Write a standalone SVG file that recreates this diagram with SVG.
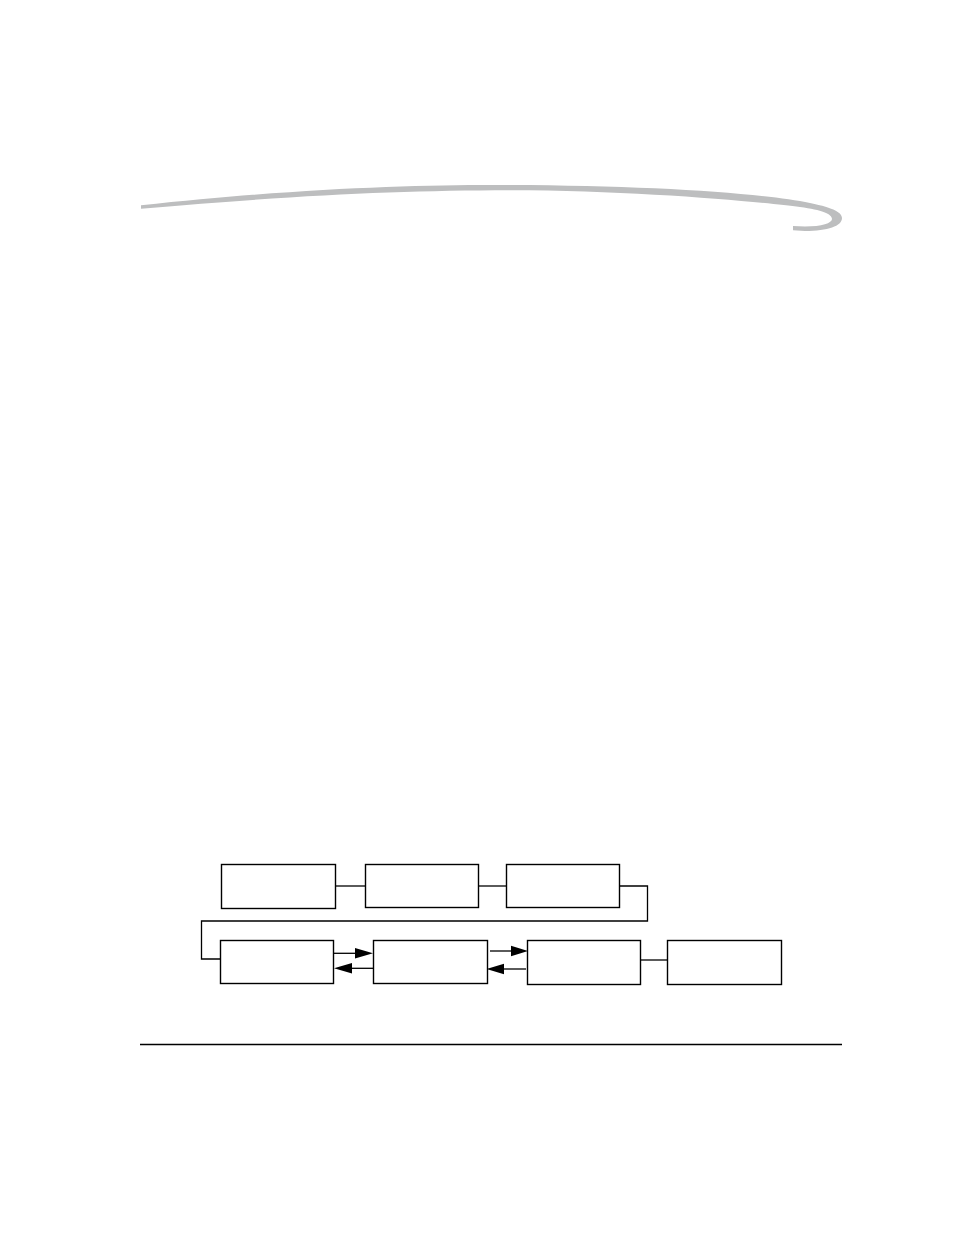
<svg xmlns="http://www.w3.org/2000/svg" width="954" height="1235" viewBox="0 0 954 1235">
<style>
.box{fill:#fff;stroke:#000;stroke-width:1.4}
.ln{fill:none;stroke:#000;stroke-width:1.3}
.ah{fill:#000;stroke:none}
</style>
<rect width="954" height="1235" fill="#fff"/>
<path id="swoosh" fill="#bdbebf" d="M141,205.3 C300,188 420,184.5 510,185 C650,185.5 760,193 810,203 C835,208 842,213 842,218 C842,226 828,231 805,231 L793,230.2 L793,226 L805,226.5 C822,226.5 832,223 832,219 C832,214 822,210 800,207 C760,202 640,190.5 510,190.3 C400,190.5 300,195 141,208.7 Z"/>
<g id="connectors">
<line class="ln" x1="335" y1="886" x2="365" y2="886"/>
<line class="ln" x1="478" y1="886" x2="506" y2="886"/>
<polyline class="ln" points="619,886 647.5,886 647.5,921 201.5,921 201.5,959 221,959"/>
<line class="ln" x1="333" y1="953.3" x2="356" y2="953.3"/>
<polygon class="ah" points="355,948 373,953.3 355,958.6"/>
<line class="ln" x1="352" y1="968.3" x2="373" y2="968.3"/>
<polygon class="ah" points="352,963 334,968.3 352,973.6"/>
<line class="ln" x1="490" y1="951" x2="512" y2="951"/>
<polygon class="ah" points="511,945.7 528,951 511,956.3"/>
<line class="ln" x1="503" y1="969" x2="526" y2="969"/>
<polygon class="ah" points="504,963.7 486.5,969 504,974.3"/>
<line class="ln" x1="640" y1="960" x2="667" y2="960"/>
</g>
<g id="node1"><rect class="box" x="221.5" y="864.5" width="114" height="44"/></g>
<g id="node2"><rect class="box" x="365.5" y="864.5" width="113" height="43"/></g>
<g id="node3"><rect class="box" x="506.5" y="864.5" width="113" height="43"/></g>
<g id="node4"><rect class="box" x="220.5" y="940.5" width="113" height="43"/></g>
<g id="node5"><rect class="box" x="373.5" y="940.5" width="114" height="43"/></g>
<g id="node6"><rect class="box" x="527.5" y="940.5" width="113" height="44"/></g>
<g id="node7"><rect class="box" x="667.5" y="940.5" width="114" height="44"/></g>
<line x1="140" y1="1044.5" x2="842" y2="1044.5" stroke="#000" stroke-width="1.3"/>
</svg>
